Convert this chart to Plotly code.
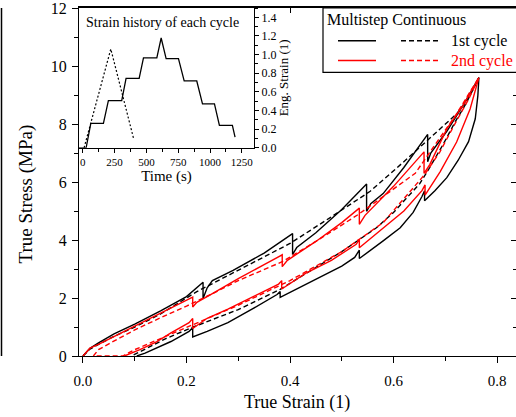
import plotly.graph_objects as go

FONT = "Liberation Serif"

# ---------------- main data: true strain / true stress ----------------
# Cycle 1, multistep (black solid)
c1_ms_strain = [0, 0.006, 0.0135, 0.03, 0.06, 0.1, 0.15, 0.2, 0.232, 0.232, 0.24, 0.25, 0.29, 0.35, 0.405, 0.405,
                0.413, 0.45, 0.5, 0.548, 0.548, 0.556, 0.58, 0.62, 0.666, 0.666, 0.672, 0.703, 0.735, 0.765,
                0.763, 0.758, 0.745, 0.725, 0.703, 0.68, 0.66, 0.66, 0.655, 0.638, 0.613, 0.58, 0.548, 0.534, 0.534,
                0.525, 0.5, 0.45, 0.4, 0.381, 0.381, 0.375, 0.33, 0.28, 0.24, 0.212, 0.212, 0.205, 0.17, 0.14,
                0.12, 0.104]
c1_ms_stress = [0, 0.12, 0.27, 0.45, 0.76, 1.1, 1.56, 2.05, 2.54, 1.98, 2.35, 2.6, 2.95, 3.55, 4.22, 3.5,
                3.74, 4.25, 5.05, 5.93, 4.99, 5.25, 5.6, 6.5, 7.64, 6.7, 7.0, 7.75, 8.66, 9.6,
                8.98, 8.18, 7.39, 6.75, 6.15, 5.7, 5.35, 5.7, 5.5, 4.95, 4.42, 3.97, 3.55, 3.36, 3.65,
                3.4, 3.1, 2.65, 2.2, 2.02, 2.22, 2.12, 1.65, 1.15, 0.85, 0.66, 0.97, 0.85, 0.5, 0.25,
                0.1, 0.0]

# Cycle 1, continuous (black dashed)
c1_ct_strain = [0, 0.006, 0.0135, 0.03, 0.06, 0.1, 0.15, 0.22, 0.3, 0.4, 0.48, 0.555, 0.62, 0.666, 0.722, 0.745,
                0.765, 0.74, 0.72, 0.696, 0.67, 0.651, 0.6, 0.567, 0.5, 0.45, 0.381, 0.3, 0.213, 0.16, 0.123, 0.094]
c1_ct_stress = [0, 0.1, 0.24, 0.4, 0.68, 1.0, 1.45, 2.22, 2.95, 3.88, 4.8, 5.68, 6.7, 7.46, 8.35, 8.9,
                9.6, 8.7, 8.1, 7.3, 6.5, 5.95, 4.95, 4.42, 3.6, 3.05, 2.3, 1.6, 1.0, 0.6, 0.26, 0.0]

# Cycle 2, multistep (red solid)
c2_ms_strain = [0, 0.006, 0.0135, 0.03, 0.06, 0.1, 0.15, 0.19, 0.212, 0.212, 0.22, 0.25, 0.3, 0.35, 0.385, 0.385,
                0.395, 0.45, 0.5, 0.534, 0.534, 0.545, 0.6, 0.659, 0.659, 0.67, 0.703, 0.735, 0.765,
                0.748, 0.722, 0.69, 0.661, 0.661, 0.655, 0.62, 0.58, 0.534, 0.534, 0.528, 0.48, 0.43, 0.384,
                0.384, 0.378, 0.33, 0.28, 0.24, 0.212, 0.212, 0.205, 0.17, 0.142, 0.11, 0.08]
c2_ms_stress = [0, 0.12, 0.27, 0.4, 0.66, 1.03, 1.48, 1.82, 2.03, 1.69, 1.85, 2.15, 2.67, 3.15, 3.49, 3.08,
                3.3, 3.95, 4.6, 5.1, 4.54, 4.85, 5.85, 7.04, 6.3, 6.6, 7.83, 8.66, 9.6,
                8.52, 7.38, 6.35, 5.55, 5.9, 5.7, 5.0, 4.4, 3.73, 4.02, 3.85, 3.3, 2.85, 2.31,
                2.6, 2.48, 2.05, 1.62, 1.3, 0.95, 1.29, 1.15, 0.8, 0.49, 0.22, 0.0]

# Cycle 2, continuous (red dashed)
c2_ct_strain = [0.02, 0.03, 0.05, 0.1, 0.15, 0.2, 0.25, 0.3, 0.385, 0.45, 0.532, 0.6, 0.642, 0.677, 0.72, 0.765,
                0.745, 0.72, 0.69, 0.66, 0.632, 0.58, 0.5, 0.4, 0.3, 0.212, 0.15, 0.1, 0.077, 0.025]
c2_ct_stress = [0, 0.22, 0.42, 0.9, 1.32, 1.72, 2.15, 2.6, 3.25, 3.95, 4.88, 5.75, 6.3, 7.2, 8.3, 9.6,
                8.85, 8.05, 7.05, 6.25, 5.68, 4.6, 3.6, 2.6, 1.75, 1.08, 0.6, 0.22, 0.0, 0.0]

# ---------------- inset data: strain history ----------------
step_time = [-30, 26, 63, 162, 201, 306, 340, 443, 477, 582, 616, 655, 752, 797, 896, 941, 1035, 1074, 1176, 1197]
step_strain = [0, 0, 0.263, 0.263, 0.507, 0.507, 0.745, 0.745, 0.965, 0.965, 1.178, 0.957, 0.957, 0.717, 0.717,
               0.472, 0.472, 0.241, 0.241, 0.114]
cont_time = [10, 220, 398]
cont_strain = [0, 1.06, 0.106]

x_ticks = [0, 0.2, 0.4, 0.6, 0.8]
x_ticktext = ["0.0", "0.2", "0.4", "0.6", "0.8"]
y_ticks = [0, 2, 4, 6, 8, 10, 12]
t_ticks = [0, 250, 500, 750, 1000, 1250]
e_ticks = [0, 0.2, 0.4, 0.6, 0.8, 1.0, 1.2, 1.4]

W, H = 516, 417
L, R, T, B = 79, 0, 5, 61
PW, PH = W - L - R, H - T - B


def px(xp):
    return (xp - L) / PW


def py(yp):
    return (H - B - yp) / PH


fig = go.Figure()
DASH = "5px,3px"
fig.add_trace(go.Scatter(x=c1_ms_strain, y=c1_ms_stress, mode="lines",
                         line=dict(color="black", width=1.4), showlegend=False))
fig.add_trace(go.Scatter(x=c1_ct_strain, y=c1_ct_stress, mode="lines",
                         line=dict(color="black", width=1.4, dash=DASH), showlegend=False))
fig.add_trace(go.Scatter(x=c2_ms_strain, y=c2_ms_stress, mode="lines",
                         line=dict(color="red", width=1.4), showlegend=False))
fig.add_trace(go.Scatter(x=c2_ct_strain, y=c2_ct_stress, mode="lines",
                         line=dict(color="red", width=1.4, dash=DASH), showlegend=False))
# dummy trace for mirrored top/right axes
fig.add_trace(go.Scatter(x=[None], y=[None], xaxis="x3", yaxis="y3", showlegend=False, hoverinfo="skip"))
# inset traces
fig.add_trace(go.Scatter(x=step_time, y=step_strain, mode="lines", xaxis="x2", yaxis="y2",
                         line=dict(color="black", width=1.3), showlegend=False))
fig.add_trace(go.Scatter(x=cont_time, y=cont_strain, mode="lines", xaxis="x2", yaxis="y2",
                         line=dict(color="black", width=1.2, dash="2px,2px"), showlegend=False))

xr = [-0.0077, 0.8367]
yr = [0, 12]
axfont = dict(family=FONT, size=16, color="black")

fig.update_layout(
    width=W, height=H,
    margin=dict(l=L, r=R, t=T, b=B, pad=0),
    paper_bgcolor="white", plot_bgcolor="white",
    font=dict(family=FONT, color="black"),
    xaxis=dict(range=xr, domain=[0, 1], anchor="y", tickvals=x_ticks, ticktext=x_ticktext,
               ticks="outside", ticklen=6, tickwidth=1, tickcolor="black", ticklabelstandoff=5,
               minor=dict(dtick=0.1, tick0=0, ticks="outside", ticklen=4, tickcolor="black"),
               showline=True, linecolor="black", linewidth=1.2, showgrid=False, zeroline=False,
               tickfont=dict(family=FONT, size=15), fixedrange=True),
    yaxis=dict(range=yr, domain=[0, 1], anchor="x", tickvals=y_ticks, ticklabeloverflow="allow",
               ticks="outside", ticklen=6, tickwidth=1, tickcolor="black", ticklabelstandoff=2,
               minor=dict(dtick=1, tick0=0, ticks="outside", ticklen=4, tickcolor="black"),
               showline=True, linecolor="black", linewidth=1.2, showgrid=False, zeroline=False,
               tickfont=axfont, fixedrange=True),
    xaxis3=dict(range=xr, overlaying="x", side="top", anchor="y3", tickvals=x_ticks,
                ticks="inside", ticklen=5, tickcolor="black", showticklabels=False,
                minor=dict(dtick=0.1, tick0=0, ticks="inside", ticklen=3, tickcolor="black"),
                showline=True, linecolor="black", linewidth=1.5, showgrid=False, zeroline=False),
    yaxis3=dict(range=yr, overlaying="y", side="right", anchor="x3", tickvals=y_ticks,
                ticks="inside", ticklen=5, tickcolor="black", showticklabels=False,
                minor=dict(dtick=1, tick0=0, ticks="inside", ticklen=3, tickcolor="black"),
                showline=False, showgrid=False, zeroline=False),
    xaxis2=dict(range=[-30, 1346], domain=[0, px(254)], anchor="y2", tickvals=t_ticks,
                ticks="outside", ticklen=4, tickcolor="black",
                minor=dict(dtick=125, tick0=0, ticks="outside", ticklen=3, tickcolor="black"),
                showline=True, linecolor="black", linewidth=1.2, showgrid=False, zeroline=False,
                tickfont=dict(family=FONT, size=11),
                title=dict(text="Time (s)", font=dict(family=FONT, size=15), standoff=0)),
    yaxis2=dict(range=[0, 1.5], domain=[py(146), 1], anchor="x2", side="right", tickvals=e_ticks,
                tickformat=".1f", ticks="outside", ticklen=4, tickcolor="black",
                minor=dict(dtick=0.1, tick0=0, ticks="outside", ticklen=3, tickcolor="black"),
                showline=True, linecolor="black", linewidth=1.2, showgrid=False, zeroline=False,
                tickfont=dict(family=FONT, size=12),
                title=dict(text="Eng. Strain (1)", font=dict(family=FONT, size=13), standoff=3)),
)

annotations = [
    dict(text="True Strain (1)", xref="paper", yref="paper", x=px(297), y=py(403),
         showarrow=False, font=dict(family=FONT, size=18), xanchor="center", yanchor="middle"),
    dict(text="True Stress (MPa)", xref="paper", yref="paper", x=px(26), y=py(193), textangle=-90,
         showarrow=False, font=dict(family=FONT, size=19), xanchor="center", yanchor="middle"),
    dict(text="Strain history of each cycle", xref="paper", yref="paper", x=px(84), y=py(20),
         showarrow=False, font=dict(family=FONT, size=14), xanchor="left", yanchor="middle"),
    dict(text="Multistep Continuous", xref="paper", yref="paper", x=px(325), y=py(17),
         showarrow=False, font=dict(family=FONT, size=16), xanchor="left", yanchor="middle"),
    dict(text="1st cycle", xref="paper", yref="paper", x=px(449), y=py(38),
         showarrow=False, font=dict(family=FONT, size=16), xanchor="left", yanchor="middle"),
    dict(text="2nd cycle", xref="paper", yref="paper", x=px(449), y=py(58),
         showarrow=False, font=dict(family=FONT, size=16, color="red"), xanchor="left", yanchor="middle"),
]

shapes = [
    # legend box
    dict(type="rect", xref="paper", yref="paper", x0=px(323), x1=px(520), y0=py(70), y1=py(5),
         line=dict(color="black", width=1.2), fillcolor="white", layer="above"),
    dict(type="line", xref="paper", yref="paper", x0=px(338), x1=px(376), y0=py(38), y1=py(38),
         line=dict(color="black", width=1.4)),
    dict(type="line", xref="paper", yref="paper", x0=px(401), x1=px(438), y0=py(38), y1=py(38),
         line=dict(color="black", width=1.4, dash=DASH)),
    dict(type="line", xref="paper", yref="paper", x0=px(338), x1=px(376), y0=py(58), y1=py(58),
         line=dict(color="red", width=1.4)),
    dict(type="line", xref="paper", yref="paper", x0=px(401), x1=px(438), y0=py(58), y1=py(58),
         line=dict(color="red", width=1.4, dash=DASH)),
    # stray frame line at far left
    dict(type="line", xref="paper", yref="paper", x0=px(1.5), x1=px(1.5), y0=py(356), y1=py(5),
         line=dict(color="black", width=1.5)),
]

fig.update_layout(annotations=annotations, shapes=shapes)
fig.write_html("out.html")
